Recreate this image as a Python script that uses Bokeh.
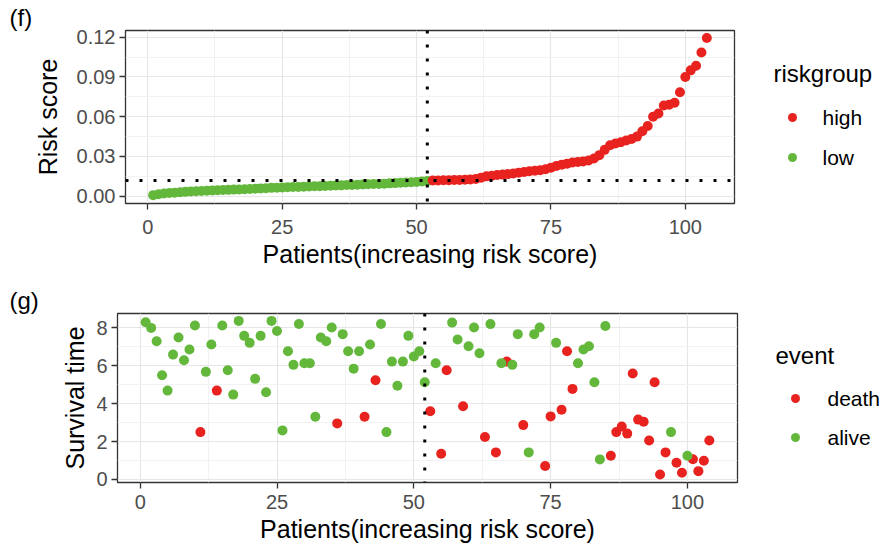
from bokeh.plotting import figure
from bokeh.layouts import column, row
from bokeh.models import Range1d, FixedTicker, NumeralTickFormatter, Span, Title
from bokeh.embed import file_html
from bokeh.resources import INLINE
from bokeh.core.properties import value

# ---------------- data ----------------
patients = list(range(1, 105))
n_low = 52
risk_cutoff = 0.0118

risk_low = [0.0008, 0.0015, 0.0020, 0.0024, 0.0027, 0.0030, 0.0033, 0.0035, 0.0037, 0.0039,
            0.0041, 0.0043, 0.0045, 0.0047, 0.0048, 0.0050, 0.0051, 0.0053, 0.0055, 0.0057,
            0.0059, 0.0061, 0.0063, 0.0064, 0.0066, 0.0067, 0.0069, 0.0070, 0.0072, 0.0073,
            0.0075, 0.0076, 0.0078, 0.0079, 0.0081, 0.0082, 0.0084, 0.0085, 0.0087, 0.0088,
            0.0090, 0.0092, 0.0093, 0.0095, 0.0097, 0.0099, 0.0101, 0.0103, 0.0105, 0.0108,
            0.0111, 0.0114]
risk_high = [0.0118, 0.0119, 0.0120, 0.0121, 0.0122, 0.0123, 0.0124, 0.0126, 0.0130, 0.0140,
             0.0150, 0.0155, 0.0160, 0.0163, 0.0167, 0.0172, 0.0178, 0.0183, 0.0188, 0.0192,
             0.0196, 0.0203, 0.0215, 0.0228, 0.0238, 0.0246, 0.0254, 0.0258, 0.0263, 0.0270,
             0.0285, 0.0310, 0.0350, 0.0385, 0.0398, 0.0408, 0.0420, 0.0432, 0.0450, 0.0490,
             0.0530, 0.0600, 0.0625, 0.0685, 0.0690, 0.0705, 0.0785, 0.0900, 0.0950, 0.0985,
             0.1085, 0.1195]

survival_time = [8.30, 8.00, 7.30, 5.50, 4.69, 6.59, 7.49, 6.29, 6.86, 8.13,
                 2.50, 5.68, 7.12, 4.69, 8.13, 5.76, 4.48, 8.37, 7.58, 7.21,
                 5.31, 7.58, 4.60, 8.37, 7.84, 2.59, 6.77, 6.05, 8.21, 6.13,
                 6.13, 3.31, 7.49, 7.30, 8.02, 2.96, 7.67, 6.77, 5.85, 6.77,
                 3.31, 7.12, 5.24, 8.21, 2.50, 6.22, 4.95, 6.22, 7.58, 6.49,
                 6.77, 5.13, 3.60, 6.13, 1.36, 5.76, 8.28, 7.39, 3.86, 7.03,
                 8.02, 6.66, 2.24, 8.20, 1.43, 6.13, 6.22, 6.05, 7.67, 2.87,
                 1.43, 7.67, 8.02, 0.71, 3.33, 7.21, 3.68, 6.77, 4.78, 6.13,
                 6.86, 7.03, 5.13, 1.06, 8.10, 1.25, 2.50, 2.79, 2.42, 5.59,
                 3.16, 3.05, 2.06, 5.13, 0.26, 1.43, 2.50, 0.88, 0.35, 1.25,
                 1.07, 0.44, 0.99, 2.06]
event = ["alive", "alive", "alive", "alive", "alive", "alive", "alive", "alive", "alive", "alive",
         "death", "alive", "alive", "death", "alive", "alive", "alive", "alive", "alive", "alive",
         "alive", "alive", "alive", "alive", "alive", "alive", "alive", "alive", "alive", "alive",
         "alive", "alive", "alive", "alive", "alive", "death", "alive", "alive", "alive", "alive",
         "death", "alive", "death", "alive", "alive", "alive", "alive", "alive", "alive", "alive",
         "alive", "alive", "death", "alive", "death", "death", "alive", "alive", "death", "alive",
         "alive", "alive", "death", "alive", "death", "alive", "death", "alive", "alive", "death",
         "alive", "alive", "alive", "death", "death", "alive", "death", "death", "death", "alive",
         "alive", "alive", "alive", "alive", "alive", "death", "death", "death", "death", "death",
         "death", "death", "death", "death", "death", "death", "alive", "death", "death", "alive",
         "death", "death", "death", "death"]

x_ticks = [0, 25, 50, 75, 100]
x_minor = [12.5, 37.5, 62.5, 87.5]
risk_ticks = [0.0, 0.03, 0.06, 0.09, 0.12]
risk_minor = [0.015, 0.045, 0.075, 0.105]
time_ticks = [0, 2, 4, 6, 8]
time_minor = [1, 3, 5, 7]
riskgroup_levels = ["high", "low"]
event_levels = ["death", "alive"]

# ---------------- style ----------------
RED = "#E8231F"
GREEN = "#63B83C"
FONT = "Liberation Sans"
PT = 10


def style(p, xt, xm, yt, ym, x_std, y_lab_std):
    p.outline_line_color = "#333333"
    p.outline_line_width = 1.3
    p.xaxis.ticker = FixedTicker(ticks=xt, minor_ticks=xm)
    p.yaxis.ticker = FixedTicker(ticks=yt, minor_ticks=ym)
    for ax in (p.xaxis[0], p.yaxis[0]):
        ax.axis_line_color = None
        ax.major_tick_line_color = "#333333"
        ax.major_tick_line_width = 1.3
        ax.major_tick_out = 6
        ax.major_tick_in = 0
        ax.minor_tick_line_color = None
        ax.major_label_text_font = FONT
        ax.major_label_text_font_size = "20px"
        ax.major_label_text_color = "#4D4D4D"
        ax.major_label_standoff = 4
        ax.axis_label_text_font = FONT
        ax.axis_label_text_font_size = "25px"
        ax.axis_label_text_font_style = "normal"
        ax.axis_label_text_color = "black"
        ax.axis_label_standoff = 3
    p.xaxis[0].major_label_standoff = x_std
    p.yaxis[0].axis_label_standoff = y_lab_std
    for g in (p.xgrid[0], p.ygrid[0]):
        g.grid_line_color = "#E6E6E6"
        g.grid_line_width = 1.2
        g.minor_grid_line_color = "#F0F0F0"
        g.minor_grid_line_width = 0.9


def add_tag(p, text, offset):
    p.add_layout(Title(text=text, align="left", offset=offset, standoff=0,
                       text_font=FONT, text_font_size="24px", text_font_style="normal",
                       text_color="black"), "above")


def legend_fig(frame_top, frame_bottom, title, labels, colors, title_xy, dot_x, lab_x, ys):
    # frame of this figure is aligned with the neighbouring plot's frame
    lf = figure(width=137, height=274, x_range=Range1d(745, 882),
                y_range=Range1d(frame_bottom, frame_top),
                min_border=0, output_backend="svg", toolbar_location=None,
                x_axis_location=None, y_axis_location=None)
    lf.grid.visible = False
    lf.outline_line_color = None
    lf.text(x=[title_xy[0]], y=[title_xy[1]], text=[title], text_font=value(FONT),
            text_font_size="24px", text_baseline="middle", text_align="left", text_color="black")
    lf.scatter(x=[dot_x] * len(labels), y=ys, color=colors, size=PT - 1, line_color=None)
    lf.text(x=[lab_x] * len(labels), y=ys, text=labels, text_font=value(FONT),
            text_font_size="21px", text_baseline="middle", text_align="left", text_color="black")
    return lf


# ---------------- panel (f) ----------------
p1 = figure(width=745, height=274, x_range=Range1d(-4.15, 109.15), y_range=Range1d(-0.0055, 0.1251),
            min_border_left=125, min_border_right=11, min_border_top=30, min_border_bottom=71,
            output_backend="svg", toolbar_location=None)
style(p1, x_ticks, x_minor, risk_ticks, risk_minor, 10, 12)
p1.yaxis.formatter = NumeralTickFormatter(format="0.00")
p1.xaxis.axis_label = "Patients(increasing risk score)"
p1.yaxis.axis_label = "Risk score"
p1.scatter(x=patients[:n_low], y=risk_low, color=GREEN, size=PT, line_color=None)
p1.scatter(x=patients[n_low:], y=risk_high, color=RED, size=PT, line_color=None)
p1.add_layout(Span(location=n_low, dimension="height", line_color="black", line_width=3, line_dash="3 11"))
p1.add_layout(Span(location=risk_cutoff, dimension="width", line_color="black", line_width=3, line_dash="3 11"))
add_tag(p1, "(f)", -116)

leg1 = legend_fig(30, 203, "riskgroup", riskgroup_levels, [RED, GREEN], (773, 73), 792, 822, [117, 157])

# ---------------- panel (g) ----------------
p2 = figure(width=745, height=274, x_range=Range1d(-4.15, 109.15), y_range=Range1d(-0.16, 8.76),
            min_border_left=117, min_border_right=8, min_border_top=39, min_border_bottom=66,
            output_backend="svg", toolbar_location=None)
style(p2, x_ticks, x_minor, time_ticks, time_minor, 6, 4)
p2.xaxis.axis_label = "Patients(increasing risk score)"
p2.yaxis.axis_label = "Survival time"
for lev, col in zip(event_levels, [RED, GREEN]):
    xs = [x for x, e in zip(patients, event) if e == lev]
    ys = [t for t, e in zip(survival_time, event) if e == lev]
    p2.scatter(x=xs, y=ys, color=col, size=PT, line_color=None)
p2.add_layout(Span(location=n_low, dimension="height", line_color="black", line_width=3, line_dash="3 11"))
add_tag(p2, "(g)", -108)

leg2 = legend_fig(313, 482, "event", event_levels, [RED, GREEN], (775, 355), 795, 827, [398, 437])

layout = column(row(p1, leg1), row(p2, leg2))
open("out.html", "w").write(file_html(layout, INLINE))
